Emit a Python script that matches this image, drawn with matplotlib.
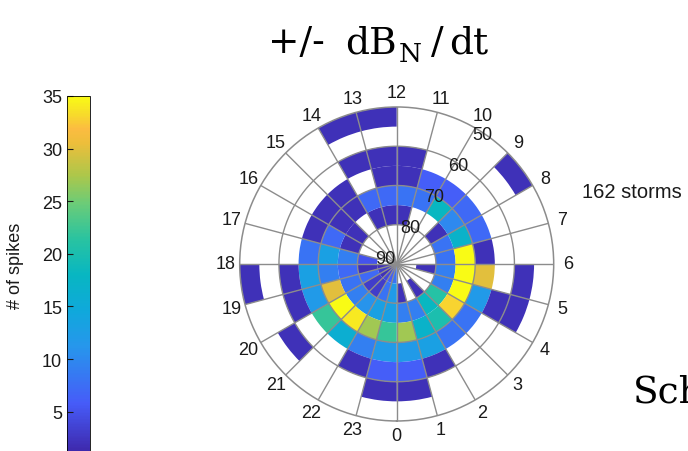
import numpy as np
import matplotlib
matplotlib.use("Agg")
import matplotlib.pyplot as plt
from matplotlib import transforms
from matplotlib.colors import LinearSegmentedColormap, Normalize
from matplotlib.cm import ScalarMappable

plt.rcParams['font.family'] = ['Liberation Sans', 'DejaVu Sans']

# spike counts per MLT hour (index 0..23), one list per 5 deg MLAT band
lat_85_90 = [0, 0, 0, 0, 0, 0, 0, 0, 0, 0, 0, 0,
             0, 0, 0, 0, 0, 0, 2, 3, 2, 4, 6, 8]
lat_80_85 = [2, 0, 2, 0, 0, 2, 0, 0, 0, 0, 0, 0,
             0, 0, 0, 0, 0, 5, 2, 7, 3, 3, 8, 12]
lat_75_80 = [9, 9, 18, 21, 9, 9, 8, 8, 2, 0, 0, 2,
             2, 2, 0, 2, 2, 9, 7, 8, 9, 11, 13, 13]
lat_70_75 = [27, 17, 20, 33, 35, 35, 35, 17, 10, 18, 8, 8,
             7, 7, 2, 2, 7, 13, 9, 30, 35, 34, 27, 22]
lat_65_70 = [12, 13, 8, 8, 12, 30, 2, 7, 7, 6, 6, 2,
             2, 0, 2, 2, 2, 8, 13, 12, 22, 16, 9, 12]
lat_60_65 = [6, 2, 0, 0, 2, 0, 0, 0, 0, 0, 0, 2,
             2, 2, 0, 0, 0, 0, 2, 2, 0, 0, 2, 6]
lat_55_60 = [2, 0, 0, 0, 2, 2, 0, 0, 0, 0, 0, 0,
             0, 0, 0, 0, 0, 0, 0, 0, 2, 0, 0, 2]
lat_50_55 = [0, 0, 0, 0, 0, 0, 0, 0, 2, 0, 0, 0,
             2, 2, 0, 0, 0, 0, 2, 0, 0, 0, 0, 0]

bands = {85: lat_85_90, 80: lat_80_85, 75: lat_75_80, 70: lat_70_75,
         65: lat_65_70, 60: lat_60_65, 55: lat_55_60, 50: lat_50_55}
hours = np.arange(24)
ring_lats = [90, 80, 70, 60, 50]
cbar_ticks = [5, 10, 15, 20, 25, 30, 35]
n_storms = 162

# parula-like colormap
parula = LinearSegmentedColormap.from_list('parula', [
    (0.00, (0.242, 0.150, 0.660)),
    (0.14, (0.275, 0.360, 0.975)),
    (0.30, (0.150, 0.590, 0.925)),
    (0.40, (0.060, 0.660, 0.860)),
    (0.50, (0.030, 0.715, 0.760)),
    (0.60, (0.160, 0.765, 0.630)),
    (0.70, (0.420, 0.800, 0.470)),
    (0.78, (0.680, 0.780, 0.290)),
    (0.87, (0.930, 0.745, 0.230)),
    (0.91, (0.985, 0.737, 0.254)),
    (0.95, (0.967, 0.857, 0.168)),
    (1.00, (0.977, 0.984, 0.081)),
])
norm = Normalize(vmin=1, vmax=35)

W, H = 688, 452
fig = plt.figure(figsize=(W / 100, H / 100), dpi=100)
ax = fig.add_axes([0.3484, 0.0664, 0.4564, 0.6947], projection='polar')
ax.set_theta_zero_location('S')
ax.set_theta_direction(1)

width = np.deg2rad(15)
theta = np.deg2rad(hours * 15)
for lat, counts in bands.items():
    counts = np.array(counts, dtype=float)
    m = counts > 0
    ax.bar(theta[m], 5, width=width, bottom=90 - (lat + 5), align='edge',
           color=parula(norm(counts[m])), linewidth=0, zorder=1)

ax.set_ylim(0, 40)
ax.set_xticks([])
ax.set_yticks([])
ax.grid(False)
gc = '#8c8c8c'
ax.spines['polar'].set_color(gc)
ax.spines['polar'].set_linewidth(1.1)
for t in theta:
    ax.plot([t, t], [0, 40], color=gc, lw=1.0, zorder=3)
circ = np.linspace(0, 2 * np.pi, 400)
for r in [10, 20, 30]:
    ax.plot(circ, np.full_like(circ, r), color=gc, lw=1.0, zorder=3)

# MLT hour labels
for h in hours:
    ax.text(np.deg2rad(h * 15), 43.6, str(h), ha='center', va='center',
            fontsize=13, color='#1a1a1a')

# latitude labels
off = transforms.offset_copy(ax.transData, fig=fig, x=-11, y=5.5, units='dots')
for lat in ring_lats:
    ax.text(np.deg2rad(142), 90 - lat, str(lat), transform=off,
            ha='center', va='center', fontsize=13, color='#1a1a1a', zorder=4)

# colorbar on the left
cax = fig.add_axes([0.0974, -0.006, 0.0334, 0.7914])
cb = fig.colorbar(ScalarMappable(norm=norm, cmap=parula), cax=cax)
cb.set_ticks(cbar_ticks)
cax.yaxis.set_ticks_position('left')
cax.tick_params(direction='in', length=4, labelsize=13, colors='#1a1a1a')
cb.outline.set_linewidth(0.6)
fig.text(16 / W, 1 - 266 / H, '# of spikes', rotation=90, fontsize=13,
         ha='center', va='center', color='#1a1a1a')

# title, set piece by piece
serif = dict(fontfamily='DejaVu Serif', fontsize=27, va='baseline')
fig.text(268 / W, 1 - 53 / H, '+/-', ha='left', **serif)
fig.text(345 / W, 1 - 53 / H, 'dB', ha='left', **serif)
fig.text(399 / W, 1 - 62 / H, 'N', ha='left', fontfamily='DejaVu Serif',
         fontsize=19, va='baseline')
fig.text(431 / W, 1 - 53 / H, '/', ha='left', **serif)
fig.text(449 / W, 1 - 53 / H, 'dt', ha='left', **serif)

fig.text(582 / W, 1 - 192 / H, f'{n_storms} storms', fontsize=14.5,
         ha='left', va='center', color='#1a1a1a')
fig.text(633 / W, 1 - 403 / H, 'Sch', ha='left', **serif)

fig.savefig('out.png', dpi=100)
